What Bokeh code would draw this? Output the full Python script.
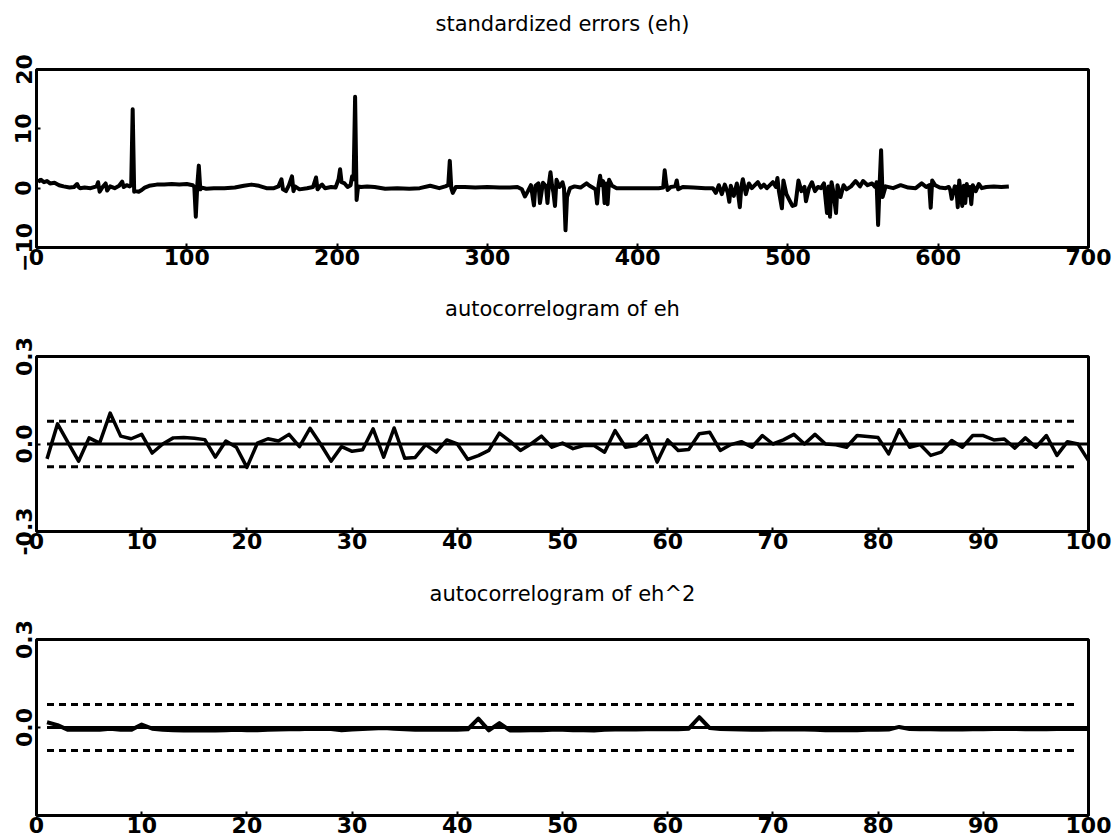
from bokeh.plotting import figure
from bokeh.layouts import column
from bokeh.models import Range1d, FixedTicker, NumeralTickFormatter, LinearAxis
from bokeh.embed import file_html
from bokeh.resources import INLINE

# ---------------- data ----------------
titles = ["standardized errors (eh)", "autocorrelogram of eh", "autocorrelogram of eh^2"]

t_err = [1, 2, 3, 5, 7, 9, 12, 15, 18, 22,
         25, 27, 28, 29, 32, 36, 40, 41, 42, 44,
         46, 47, 49, 52, 55, 57, 58, 60, 62, 63,
         64, 65, 66, 68, 70, 72, 75, 80, 85, 90,
         95, 100, 104, 105, 106, 107, 108, 109, 110, 113,
         118, 125, 132, 138, 143, 148, 153, 158, 161, 163,
         164, 166, 168, 170, 171, 172, 175, 180, 184, 186,
         187, 189, 190, 192, 196, 199, 201, 202, 203, 205,
         207, 209, 210, 211, 212, 213, 214, 216, 220, 225,
         232, 240, 248, 255, 262, 268, 272, 274, 275, 276,
         277, 279, 285, 292, 300, 308, 315, 320, 323, 325,
         327, 329, 331, 332, 334, 335, 337, 339, 340, 341,
         342, 343, 344, 345, 346, 348, 350, 351, 352, 353,
         355, 358, 362, 366, 368, 370, 372, 373, 374, 375,
         376, 377, 378, 379, 380, 381, 383, 386, 392, 400,
         408, 414, 417, 418, 419, 420, 422, 425, 426, 427,
         430, 437, 445, 450, 452, 454, 456, 458, 460, 461,
         462, 464, 466, 468, 469, 470, 472, 474, 476, 478,
         480, 482, 484, 486, 488, 490, 492, 493, 494, 496,
         497, 499, 501, 503, 505, 507, 509, 511, 512, 514,
         516, 518, 520, 522, 524, 526, 527, 528, 529, 530,
         532, 533, 535, 537, 539, 542, 545, 548, 550, 553,
         556, 558, 559, 560, 561, 562, 563, 565, 570, 575,
         580, 585, 589, 592, 594, 595, 596, 598, 601, 605,
         607, 608, 609, 611, 612, 613, 614, 616, 617, 618,
         619, 620, 621, 622, 623, 625, 627, 629, 632, 637,
         642, 647]
e_err = [1.5, 1.2, 1.4, 1.0, 1.2, 0.8, 0.9, 0.5, 0.3, 0.1,
         0.2, 0.7, 0.2, 0.0, 0.1, 0.0, 0.3, 1.0, -0.6, 0.2,
         0.8, -0.4, 0.3, 0.0, 0.4, 1.1, 0.2, 0.5, 0.3, 0.5,
         13.3, -0.6, -0.5, -0.6, -0.3, 0.1, 0.4, 0.6, 0.6, 0.7,
         0.6, 0.7, 0.5, 0.2, -4.8, 0.5, 3.8, -0.2, 0.1, -0.1,
         0.0, 0.0, 0.1, 0.4, 0.6, 0.4, 0.0, 0.0, 0.3, 1.5,
         -0.2, -0.5, 0.5, 2.0, -0.5, 0.3, -0.2, 0.0, 0.2, 1.8,
         -0.2, 0.4, 0.6, 0.0, 0.2, 0.1, 1.5, 3.2, 1.0, 0.8,
         0.2, 0.5, 2.0, 1.5, 15.4, -2.0, 0.3, 0.2, 0.3, 0.2,
         -0.1, 0.0, -0.1, 0.0, 0.4, 0.0, 0.3, 0.5, 4.6, 0.0,
         -0.8, 0.2, 0.2, 0.1, 0.2, 0.1, 0.1, 0.2, -0.2, -1.4,
         -0.5, 0.5, -2.9, 0.4, 0.8, -2.5, 0.9, 0.3, -2.5, 0.8,
         2.7, 0.5, -0.8, -3.0, 1.4, 0.2, 1.0, 0.0, -7.1, -1.5,
         0.0, 0.3, 0.1, 0.8, 0.4, 0.1, -0.2, -2.6, 0.5, 2.1,
         0.5, 1.2, -2.5, 0.8, -2.7, 1.4, 0.4, 0.0, 0.0, 0.0,
         0.0, 0.0, 0.1, 3.0, 0.8, -0.3, 0.2, 0.3, 1.3, -0.2,
         0.2, 0.1, 0.0, 0.0, -0.8, 0.5, -1.0, 0.6, -0.8, -2.3,
         0.4, -1.3, 0.8, -3.2, 0.3, 1.5, -1.0, 0.8, 0.0, 0.5,
         1.0, 0.1, 0.6, 0.0, 0.5, 1.0, 0.2, 1.7, -0.5, -3.4,
         1.3, -1.0, -2.0, -3.0, -2.8, 1.3, -0.5, 0.2, -2.2, 0.0,
         1.0, -0.5, 0.2, 0.0, 0.8, -4.2, 0.3, -4.8, 1.0, -0.3,
         -4.2, 0.5, -1.5, 0.5, -0.2, 0.3, 1.2, 0.3, 1.2, 0.5,
         0.8, 0.2, 1.0, -6.2, 0.5, 6.4, -1.5, 0.3, 0.0, 0.5,
         0.1, 0.0, 0.8, 0.2, 0.5, -3.3, 1.3, 0.5, 0.1, 0.0,
         0.2, -0.3, -1.8, 0.3, 0.2, -3.2, 1.3, -3.0, 0.4, -2.5,
         0.7, -1.2, 0.2, -2.7, 0.5, -0.5, 0.7, 0.0, 0.2, 0.3,
         0.2, 0.3]

lags = list(range(1, 101))
acf_eh = [-0.051, 0.069, 0.005, -0.059, 0.021, 0.003, 0.106, 0.027, 0.018, 0.033,
          -0.031, 0.000, 0.021, 0.022, 0.020, 0.015, -0.045, 0.010, -0.011, -0.080,
          0.003, 0.018, 0.010, 0.033, -0.009, 0.054, 0.000, -0.059, -0.009, -0.025,
          -0.020, 0.052, -0.045, 0.055, -0.049, -0.046, -0.002, -0.028, 0.014, 0.000,
          -0.053, -0.040, -0.022, 0.037, 0.010, -0.022, 0.000, 0.027, -0.011, 0.003,
          -0.016, -0.005, -0.005, -0.028, 0.046, -0.011, -0.005, 0.029, -0.062, 0.014,
          -0.022, -0.019, 0.035, 0.040, -0.022, -0.002, 0.008, -0.011, 0.029, 0.000,
          0.014, 0.033, 0.000, 0.033, 0.000, -0.003, -0.011, 0.029, 0.026, 0.022,
          -0.034, 0.049, -0.011, -0.002, -0.039, -0.028, 0.012, -0.011, 0.029, 0.029,
          0.014, 0.017, -0.014, 0.021, -0.011, 0.029, -0.039, 0.008, 0.000, -0.057]
acf_eh2 = [0.018, 0.008, -0.008, -0.008, -0.007, -0.008, -0.004, -0.008, -0.008, 0.010,
           -0.004, -0.008, -0.009, -0.010, -0.010, -0.009, -0.010, -0.009, -0.008, -0.009,
           -0.009, -0.008, -0.007, -0.006, -0.006, -0.004, -0.005, -0.005, -0.009, -0.007,
           -0.005, -0.003, -0.002, -0.004, -0.006, -0.008, -0.008, -0.007, -0.008, -0.008,
           -0.006, 0.030, -0.010, 0.015, -0.010, -0.010, -0.009, -0.009, -0.008, -0.008,
           -0.009, -0.009, -0.010, -0.008, -0.007, -0.007, -0.007, -0.006, -0.006, -0.006,
           -0.006, -0.004, 0.035, -0.002, -0.005, -0.006, -0.007, -0.008, -0.008, -0.007,
           -0.007, -0.006, -0.007, -0.008, -0.009, -0.009, -0.009, -0.009, -0.008, -0.008,
           -0.007, 0.002, -0.005, -0.006, -0.006, -0.007, -0.007, -0.007, -0.006, -0.006,
           -0.005, -0.005, -0.005, -0.006, -0.006, -0.006, -0.005, -0.005, -0.005, -0.005]
band = 0.078           # +/- 2/sqrt(n) bounds
band_x = [1, 99]
zero_x = [1, 100]

x_ticks_err = [0, 100, 200, 300, 400, 500, 600, 700]
y_ticks_err = [-10, 0, 10, 20]
x_ticks_acf = [0, 10, 20, 30, 40, 50, 60, 70, 80, 90, 100]
y_ticks_acf = [-0.3, 0.0, 0.3]
y_ticks_acf2 = [0.0, 0.3]

FONT = "DejaVu Sans"


def make_fig(height, b_top, b_bottom, xr, yr, xt, yt, title, title_standoff, yfmt=None):
    p = figure(width=1114, height=height, x_range=Range1d(*xr), y_range=Range1d(*yr),
               output_backend="svg", toolbar_location=None,
               min_border_left=36, min_border_right=26,
               min_border_top=b_top, min_border_bottom=b_bottom)
    xax = p.xaxis[0]
    yax = p.yaxis[0]
    p.grid.visible = False
    p.outline_line_color = "black"
    p.outline_line_width = 3
    p.outline_line_alpha = 1.0
    p.background_fill_color = "white"
    p.border_fill_color = "white"
    for ax in (xax, yax):
        ax.axis_line_color = None
        ax.major_tick_line_color = "black"
        ax.major_tick_line_width = 2
        ax.major_tick_in = 4
        ax.major_tick_out = 0
        ax.minor_tick_line_color = None
        ax.major_label_text_font = FONT
        ax.major_label_text_font_size = "22px"
        ax.major_label_text_font_style = "bold"
        ax.major_label_text_color = "black"
    xax.ticker = FixedTicker(ticks=xt)
    xax.major_label_standoff = 1
    yax.ticker = FixedTicker(ticks=yt)
    yax.major_label_orientation = "vertical"
    yax.major_label_standoff = 5
    if yfmt:
        yax.formatter = NumeralTickFormatter(format=yfmt)
    # panel title, carried by an unticked axis above the frame
    top_ax = LinearAxis(ticker=FixedTicker(ticks=[]), axis_label=title,
                        axis_label_standoff=title_standoff,
                        axis_label_text_font=FONT, axis_label_text_font_size="21px",
                        axis_label_text_font_style="normal", axis_label_text_color="black",
                        axis_line_color=None, major_tick_line_color=None,
                        minor_tick_line_color=None, major_tick_out=0, major_tick_in=0,
                        major_label_standoff=0)
    p.add_layout(top_ax, "above")
    return p


p1 = make_fig(285, 69, 38, (0, 700), (-10, 20), x_ticks_err, y_ticks_err, titles[0], 34)
p1.line(t_err, e_err, line_color="black", line_width=4, line_join="round")

p2 = make_fig(285, 71, 39, (0, 100), (-0.3, 0.3), x_ticks_acf, y_ticks_acf, titles[1], 36, "0.0")
p2.line(zero_x, [0, 0], line_color="black", line_width=3)
p2.line(band_x, [band, band], line_color="black", line_width=3, line_dash="7 5")
p2.line(band_x, [-band, -band], line_color="black", line_width=3, line_dash="7 5")
p2.line(lags, acf_eh, line_color="black", line_width=3.5, line_join="round")

p3 = make_fig(273, 69, 28, (0, 100), (-0.3, 0.3), x_ticks_acf, y_ticks_acf2, titles[2], 34, "0.0")
p3.line(zero_x, [0, 0], line_color="black", line_width=3)
p3.line(band_x, [band, band], line_color="black", line_width=3, line_dash="7 5")
p3.line(band_x, [-band, -band], line_color="black", line_width=3, line_dash="7 5")
p3.line(lags, acf_eh2, line_color="black", line_width=4, line_join="round")

layout = column(p1, p2, p3, spacing=0)
open("out.html", "w").write(file_html(layout, INLINE))
